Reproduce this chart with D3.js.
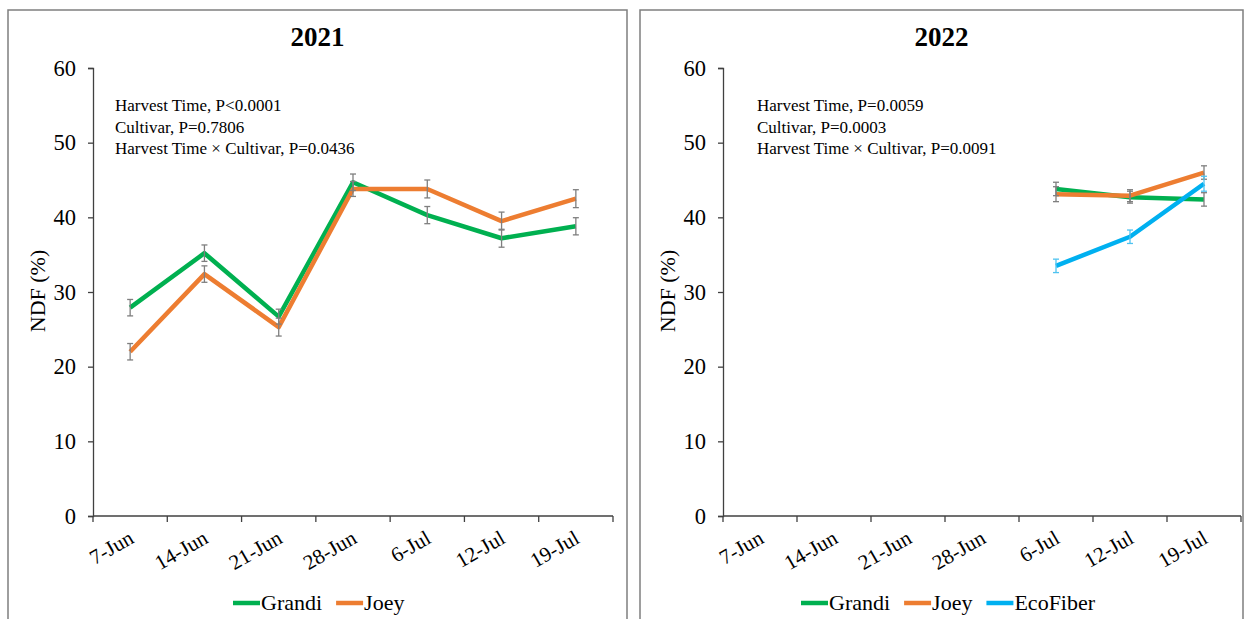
<!DOCTYPE html>
<html>
<head>
<meta charset="utf-8">
<script src="https://cdn.jsdelivr.net/npm/d3@7"></script>
<style>
  html, body { margin: 0; padding: 0; background: #fff; }
  svg { display: block; font-family: "Liberation Serif", "Times New Roman", serif; }
</style>
</head>
<body>
<svg id="chart" width="1246" height="619"></svg>
<script>
// Harvest dates shared by both seasons
const dates = ["7-Jun", "14-Jun", "21-Jun", "28-Jun", "6-Jul", "12-Jul", "19-Jul"];
const yTicks = [0, 10, 20, 30, 40, 50, 60];

// 2021 season, NDF (%) means and standard errors
const grandi2021 = [27.9, 35.2, 26.7, 44.7, 40.3, 37.2, 38.8];
const grandi2021Err = [1.1, 1.1, 1.0, 1.1, 1.15, 1.2, 1.15];
const joey2021 = [22.0, 32.4, 25.3, 43.8, 43.8, 39.5, 42.5];
const joey2021Err = [1.1, 1.1, 1.2, 1.0, 1.2, 1.2, 1.2];

// 2022 season (first harvest on 6-Jul)
const grandi2022 = [null, null, null, null, 43.8, 42.7, 42.4];
const grandi2022Err = [null, null, null, null, 0.9, 0.8, 0.9];
const joey2022 = [null, null, null, null, 43.1, 42.9, 46.0];
const joey2022Err = [null, null, null, null, 1.0, 0.8, 0.9];
const ecofiber2022 = [null, null, null, null, 33.5, 37.4, 44.5];
const ecofiber2022Err = [null, null, null, null, 0.9, 0.9, 1.0];

// ANOVA notes
const notes2021 = ["Harvest Time, P<0.0001", "Cultivar, P=0.7806", "Harvest Time \u00d7 Cultivar, P=0.0436"];
const notes2022 = ["Harvest Time, P=0.0059", "Cultivar, P=0.0003", "Harvest Time \u00d7 Cultivar, P=0.0091"];

const colors = { Grandi: "#00b050", Joey: "#ed7d31", EcoFiber: "#00b0f0" };
const errColors = { Grandi: "#7f7f7f", Joey: "#7f7f7f", EcoFiber: "#4fc3f0" };

const panels = [
  {
    title: "2021", frame: [8, 10, 627], plot: [93, 613], notes: notes2021, noteX: 115,
    series: [
      { name: "Grandi", values: grandi2021, err: grandi2021Err },
      { name: "Joey", values: joey2021, err: joey2021Err }
    ],
    legendX: 233
  },
  {
    title: "2022", frame: [640, 10, 1243], plot: [723, 1241], notes: notes2022, noteX: 757,
    series: [
      { name: "Grandi", values: grandi2022, err: grandi2022Err },
      { name: "Joey", values: joey2022, err: joey2022Err },
      { name: "EcoFiber", values: ecofiber2022, err: ecofiber2022Err }
    ],
    legendX: 801
  }
];

const svg = d3.select("#chart");
const y = d3.scaleLinear().domain([0, 60]).range([516, 68]);
const axisColor = "#404040";

panels.forEach(p => {
  const g = svg.append("g");

  // panel frame (open at the bottom)
  g.append("path")
    .attr("d", `M${p.frame[0]},625 V${p.frame[1]} H${p.frame[2]} V625`)
    .attr("fill", "none").attr("stroke", "#7f7f7f").attr("stroke-width", 1.5);

  const x = d3.scaleBand().domain(dates).range(p.plot).padding(0);
  const cx = d => x(d) + x.bandwidth() / 2;

  // title
  g.append("text").attr("x", (p.frame[0] + p.frame[2]) / 2).attr("y", 46)
    .attr("text-anchor", "middle").attr("font-weight", "bold").attr("font-size", 27)
    .text(p.title);

  // y axis
  const ya = g.append("g").attr("transform", `translate(${p.plot[0]},0)`)
    .call(d3.axisLeft(y).tickValues(yTicks).tickSize(5).tickSizeOuter(5).tickPadding(12));
  ya.select(".domain").attr("stroke", axisColor).attr("stroke-width", 1.3);
  ya.selectAll(".tick line").attr("stroke", axisColor).attr("stroke-width", 1.3);
  ya.selectAll(".tick text").attr("font-size", 22.5).attr("font-family", "Liberation Serif").attr("fill", "#000");

  // y axis title
  g.append("text")
    .attr("transform", `translate(${p.plot[0] - 48},${y(30) - 1}) rotate(-90)`)
    .attr("text-anchor", "middle").attr("font-size", 22).text("NDF (%)");

  // x axis line and ticks at category boundaries
  g.append("line").attr("x1", p.plot[0]).attr("x2", p.plot[1]).attr("y1", y(0)).attr("y2", y(0))
    .attr("stroke", axisColor).attr("stroke-width", 1.3);
  const bounds = dates.map(d => x(d)).concat([p.plot[1]]);
  g.selectAll(".xtick").data(bounds).join("line")
    .attr("x1", d => d).attr("x2", d => d).attr("y1", y(0)).attr("y2", y(0) + 6)
    .attr("stroke", axisColor).attr("stroke-width", 1.3);
  g.selectAll(".xlab").data(dates).join("text")
    .attr("transform", d => `translate(${cx(d) + 5},${y(0) + 26}) rotate(-30)`)
    .attr("text-anchor", "end").attr("font-size", 21).text(d => d);

  // notes
  g.selectAll(".note").data(p.notes).join("text")
    .attr("x", p.noteX).attr("y", (d, i) => 111 + i * 21.5)
    .attr("font-size", 17).text(d => d);

  // lines
  p.series.forEach(s => {
    const line = d3.line()
      .defined(d => d != null)
      .x((d, i) => cx(dates[i]))
      .y(d => y(d));
    g.append("path").datum(s.values)
      .attr("d", line)
      .attr("fill", "none").attr("stroke", colors[s.name]).attr("stroke-width", 4.5)
      .attr("stroke-linejoin", "round");
  });

  // error bars
  p.series.forEach(s => {
    const pts = s.values.map((v, i) => ({ v, e: s.err[i], d: dates[i] })).filter(o => o.v != null);
    const eb = g.append("g").attr("stroke", errColors[s.name]).attr("stroke-width", 1.3).attr("fill", "none");
    pts.forEach(o => {
      const xx = cx(o.d), y1 = y(o.v + o.e), y2 = y(o.v - o.e);
      eb.append("line").attr("x1", xx).attr("x2", xx).attr("y1", y1).attr("y2", y2);
      eb.append("line").attr("x1", xx - 3).attr("x2", xx + 3).attr("y1", y1).attr("y2", y1);
      eb.append("line").attr("x1", xx - 3).attr("x2", xx + 3).attr("y1", y2).attr("y2", y2);
    });
  });

  // legend
  let lx = p.legendX;
  p.series.forEach(s => {
    g.append("line").attr("x1", lx).attr("x2", lx + 27).attr("y1", 603).attr("y2", 603)
      .attr("stroke", colors[s.name]).attr("stroke-width", 4.5);
    const t = g.append("text").attr("x", lx + 28).attr("y", 610).attr("font-size", 22).text(s.name);
    lx += 28 + t.node().getComputedTextLength() + 14;
  });
});
</script>
</body>
</html>
